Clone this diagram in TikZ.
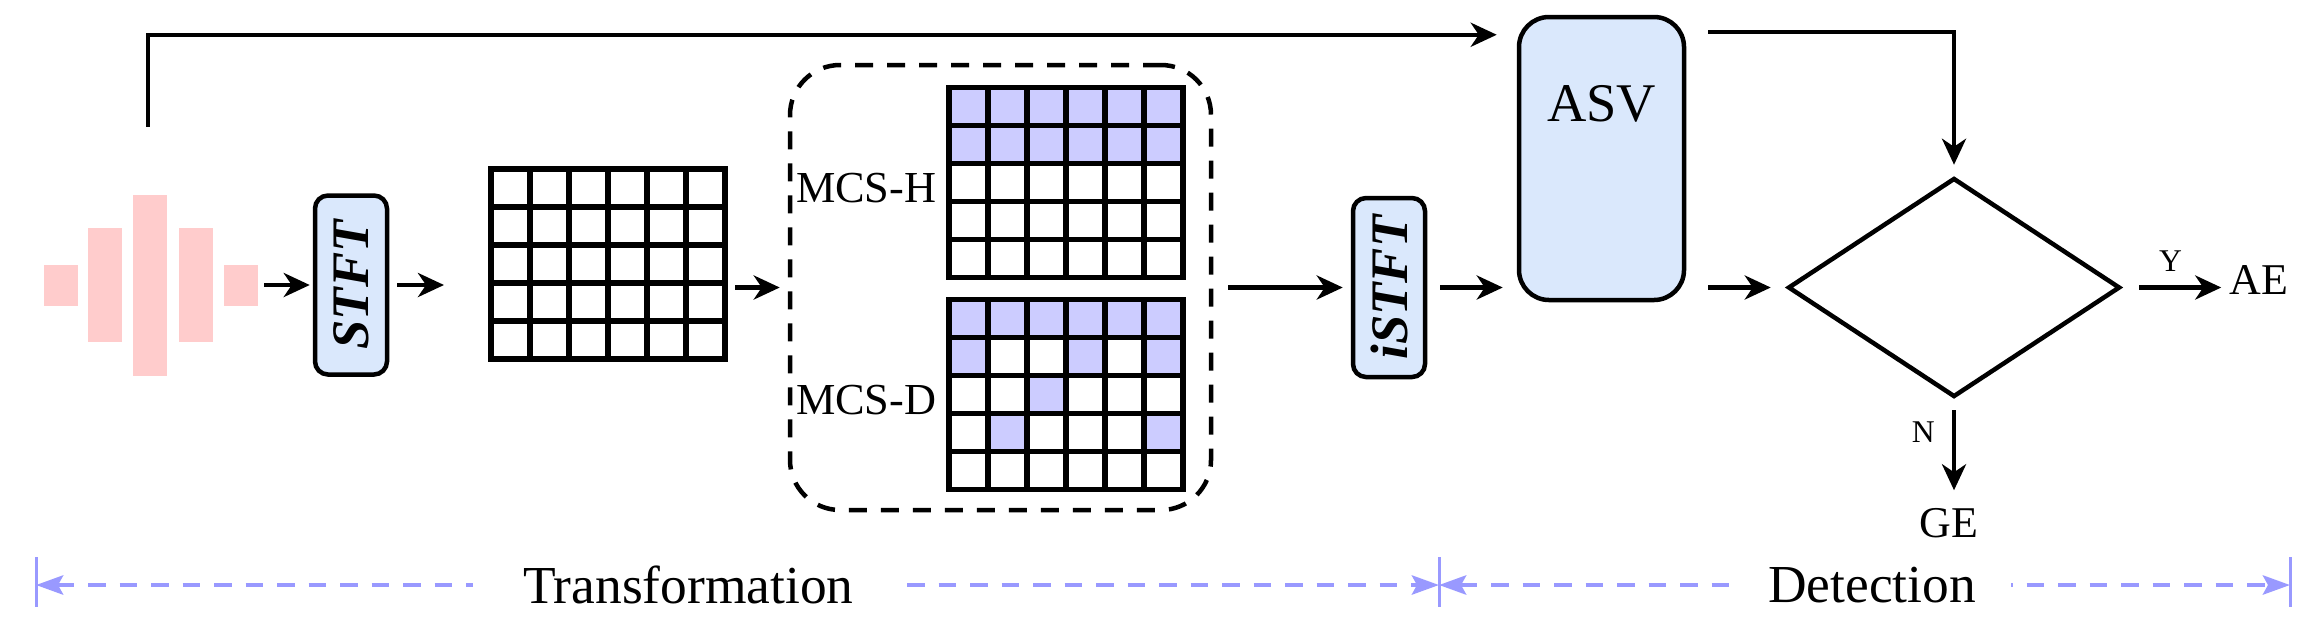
\documentclass[tikz,border=0pt]{standalone}
\usepackage{fontspec}
\setmainfont{Liberation Serif}
\usepackage{graphicx}
\definecolor{boxblue}{HTML}{DAE8FC}
\definecolor{maskblue}{HTML}{CCCCFF}
\definecolor{wavepink}{HTML}{FFCCCC}
\definecolor{spanblue}{HTML}{9999FF}
\usetikzlibrary{positioning, shapes.geometric, arrows.meta, calc}

\begin{document}
\begin{tikzpicture}[x=0.1mm, y=-0.1mm,
    flow/.style={-{Stealth[length=2.6mm, width=2.4mm, inset=0.8mm]}, line width=0.45mm},
    wavebar/.style={fill=wavepink, minimum width=3.4mm, inner sep=0pt, outer sep=0pt},
    procbox/.style={draw, fill=boxblue, line width=0.45mm, rounded corners=1.3mm, minimum width=7.2mm, minimum height=17.9mm, inner sep=0pt, font=\fontsize{15}{16}\selectfont\bfseries\itshape},
    gridframe/.style={minimum width=23.4mm, minimum height=19mm, inner sep=0pt, outer sep=0pt},
    gridline/.style={line width=0.55mm},
    maskcell/.style={fill=maskblue},
    groupbox/.style={draw, line width=0.45mm, dash pattern=on 1.8mm off 1.4mm, rounded corners=5mm, minimum width=42.1mm, minimum height=44.5mm},
    asvbox/.style={draw, fill=boxblue, line width=0.45mm, rounded corners=3mm, minimum width=16.5mm, minimum height=28.3mm},
    decision/.style={diamond, draw, line width=0.45mm, minimum width=33.2mm, minimum height=21.9mm, inner sep=0pt},
    txt/.style={inner sep=0pt},
    spanline/.style={{Stealth[length=2.7mm, width=1.9mm, inset=0.5mm]}-{Stealth[length=2.7mm, width=1.9mm, inset=0.5mm]}, draw=spanblue, line width=0.47mm, dash pattern=on 1.75mm off 1.4mm},
    tickline/.style={draw=spanblue, line width=0.3mm},
    phaselabel/.style={fill=white, inner xsep=5mm, inner ysep=1mm, text=black, font=\fontsize{15.2}{18}\selectfont}]
    \fill[white] (0,0) rectangle (2320,634);
    \useasboundingbox (0,0) rectangle (2320,634);

    \foreach \x/\h [count=\i] in {60.5/4.1, 105/11.4, 150/18.1, 196/11.4, 241/4.1}
        \node[wavebar, minimum height=\h mm] (w\i) at (\x,285) {};

    \node[procbox] (stft) at (351,285) {\rotatebox{90}{STFT}};
    \node[gridframe] (spec) at (608,264) {};
    \node[groupbox] (mcs) at (1000.5,287.5) {};
    \node[gridframe] (mcsh) at (1066,182.5) {};
    \node[gridframe] (mcsd) at (1066,394.5) {};
    \node[txt, left=1.2mm of mcsh, yshift=-0.55mm, font=\fontsize{12.6}{14}\selectfont] (lblh) {MCS-H};
    \node[txt, left=1.2mm of mcsd, yshift=-0.55mm, font=\fontsize{12.6}{14}\selectfont] (lbld) {MCS-D};
    \node[procbox] (istft) at (1389,287.5) {\rotatebox{90}{iSTFT}};
    \node[asvbox] (asv) at (1601.5,158.5) {};
    \node[txt, below=7mm of asv.north, font=\fontsize{15.5}{18}\selectfont] (asvname) {ASV};
    \node[decision] (dec) at (1954,287.5) {};
    \node[txt, right=10.7mm of dec, yshift=0.8mm, font=\fontsize{12.5}{14}\selectfont] (ae) {AE};
    \node[txt, below=10.8mm of dec, xshift=-0.5mm, font=\fontsize{12.5}{14}\selectfont] (ge) {GE};

    \foreach \c in {1,...,6} \foreach \r in {1,2}
        \fill[maskcell] ($(mcsh.north west)+(\c*39-39,\r*38-38)$) rectangle ++(39,38);
    \foreach \c/\r in {1/1,2/1,3/1,4/1,5/1,6/1,1/2,4/2,6/2,3/3,2/4,6/4}
        \fill[maskcell] ($(mcsd.north west)+(\c*39-39,\r*38-38)$) rectangle ++(39,38);
    \foreach \g in {spec, mcsh, mcsd} {
        \foreach \c in {1,...,5} \draw[gridline] ($(\g.north west)+(\c*39,0)$) -- ++(0,190);
        \foreach \r in {1,...,4} \draw[gridline] ($(\g.north west)+(0,\r*38)$) -- ++(234,0);
        \draw[gridline] (\g.north west) rectangle (\g.south east);
    }

    \coordinate (tap) at ($(w3.north)+(-2,-68)$);
    \draw[flow, shorten >=2mm] (tap) |- ($(asv.north west)+(0,20)$);
    \draw[flow, shorten <=2.2mm, shorten >=1.1mm] ($(asv.north east)+(0,17)$) -| (dec.north);
    \draw[flow, shorten <=0.6mm, shorten >=0.3mm] (w5.east) -- (stft.west);
    \draw[flow, shorten <=0.8mm, shorten >=4.7mm] (stft.east) -- (stft.east -| spec.west);
    \draw[flow, shorten <=1mm, shorten >=0.8mm] (spec.east |- mcs.west) -- (mcs.west);
    \draw[flow, shorten <=1.5mm, shorten >=0.8mm] (mcs.east) -- (istft.west);
    \draw[flow, shorten <=1.3mm, shorten >=1.4mm] (istft.east) -- (istft.east -| asv.west);
    \draw[flow, shorten <=2.2mm, shorten >=1.5mm] (asv.east |- dec.west) -- (dec.west);
    \draw[flow, shorten <=1.7mm, shorten >=0.8mm] (dec.east) -- node[txt, above=1.4mm, pos=0.45, font=\fontsize{9}{10}\selectfont] {Y} (ae.west |- dec.east);
    \draw[flow, shorten <=1.1mm, shorten >=1.7mm] (dec.south) -- node[txt, left=1.7mm, pos=0.3, font=\fontsize{9}{10}\selectfont] {N} (ge.north -| dec.south);

    \coordinate (tl) at (36,585);
    \coordinate (tm) at (1439,585);
    \coordinate (tr) at (2290,585);
    \foreach \p in {tl, tm, tr} \draw[tickline] ($(\p)+(0,-28)$) -- ($(\p)+(0,22)$);
    \draw[spanline] (tl) -- node[phaselabel, pos=0.465] (trans) {Transformation} (tm);
    \draw[spanline] (tm) -- node[phaselabel, pos=0.509, inner xsep=3.5mm] (detect) {Detection} (tr);
\end{tikzpicture}
\end{document}
